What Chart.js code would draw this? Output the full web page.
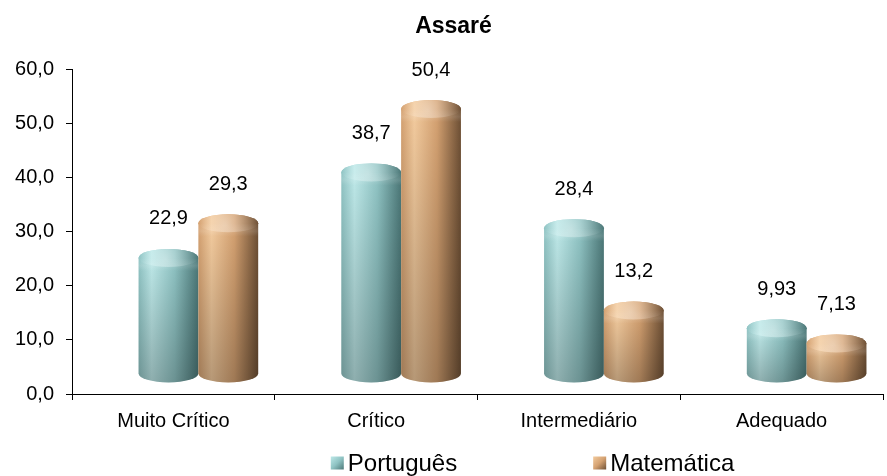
<!DOCTYPE html>
<html>
<head>
<meta charset="utf-8">
<script src="https://cdn.jsdelivr.net/npm/chart.js@4/dist/chart.umd.min.js"></script>
<style>
  body { margin: 0; background: #fff; }
  #wrap { width: 887px; height: 476px; }
</style>
</head>
<body>
<div id="wrap"><canvas id="chart"></canvas></div>
<script>
// dados
var titulo = "Assaré";
var categorias = ["Muito Crítico", "Crítico", "Intermediário", "Adequado"];
var portugues = [22.9, 38.7, 28.4, 9.93];
var matematica = [29.3, 50.4, 13.2, 7.13];
var series = ["Português", "Matemática"];
var yTicks = [0, 10, 20, 30, 40, 50, 60];

var fonte = "'Liberation Sans', Arial, sans-serif";

// cores dos cilindros
var cores = [
    { claro: "#bde8e8", medio: "#8fc3c3", escuro: "#4c7878" },
    { claro: "#f3cb9e", medio: "#d4a171", escuro: "#6e5035" }
];

// deslocamento 3D
var dx = 25;
var ry = 9;

function virgula(v) {
    return String(v).replace(".", ",");
}

function gradCorpo(ctx, cx, rx, c) {
    var g = ctx.createLinearGradient(cx - rx, 0, cx + rx, 0);
    g.addColorStop(0, c.medio);
    g.addColorStop(0.22, c.claro);
    g.addColorStop(0.6, c.medio);
    g.addColorStop(1, c.escuro);
    return g;
}

function desenhaCilindro(ctx, bar, c) {
    var rx = bar.width / 2;
    var cx = bar.x + dx;
    var topo = bar.y - 12;
    var fundo = bar.base - 20;

    ctx.save();
    ctx.beginPath();
    ctx.moveTo(cx - rx, topo);
    ctx.lineTo(cx - rx, fundo);
    ctx.ellipse(cx, fundo, rx, ry, 0, Math.PI, 0, true);
    ctx.lineTo(cx + rx, topo);
    ctx.ellipse(cx, topo, rx, ry, 0, 0, Math.PI, true);
    ctx.closePath();
    ctx.fillStyle = gradCorpo(ctx, cx, rx, c);
    ctx.fill();

    // sombra vertical
    var s = ctx.createLinearGradient(0, topo, 0, fundo + ry);
    s.addColorStop(0, "rgba(0,0,0,0)");
    s.addColorStop(1, "rgba(0,0,0,0.25)");
    ctx.fillStyle = s;
    ctx.fill();

    // tampa arredondada
    ctx.beginPath();
    ctx.ellipse(cx, topo, rx, ry, 0, 0, Math.PI * 2);
    ctx.fillStyle = gradCorpo(ctx, cx, rx, c);
    ctx.fill();
    var h = ctx.createRadialGradient(cx - rx * 0.1, topo + 1, 1, cx, topo, rx);
    h.addColorStop(0, "rgba(255,255,255,0.35)");
    h.addColorStop(1, "rgba(255,255,255,0)");
    ctx.fillStyle = h;
    ctx.fill();
    // ombro da tampa
    var o = ctx.createLinearGradient(0, topo, 0, topo + ry + 4);
    o.addColorStop(0, "rgba(255,255,255,0)");
    o.addColorStop(0.6, "rgba(255,255,255,0.12)");
    o.addColorStop(1, "rgba(255,255,255,0)");
    ctx.fillStyle = o;
    ctx.fillRect(cx - rx, topo, rx * 2, ry + 4);
    ctx.restore();
}

var cilindros = {
    id: "cilindros",
    afterDatasetsDraw: function(chart) {
        var ctx = chart.ctx;
        chart.data.datasets.forEach(function(ds, i) {
            var meta = chart.getDatasetMeta(i);
            meta.data.forEach(function(bar) {
                desenhaCilindro(ctx, bar, cores[i]);
            });
        });
        // rótulos de valor
        ctx.save();
        ctx.fillStyle = "#000";
        ctx.font = "20px " + fonte;
        ctx.textAlign = "center";
        ctx.textBaseline = "middle";
        chart.data.datasets.forEach(function(ds, i) {
            var meta = chart.getDatasetMeta(i);
            meta.data.forEach(function(bar, j) {
                ctx.fillText(virgula(ds.data[j]), bar.x + dx, bar.y - 12 - ry - 30);
            });
        });
        ctx.restore();
    },
    afterDraw: function(chart) {
        var ctx = chart.ctx;
        var ca = chart.chartArea;
        ctx.save();
        // título
        ctx.fillStyle = "#000";
        ctx.font = "bold 23px " + fonte;
        ctx.textAlign = "center";
        ctx.textBaseline = "middle";
        ctx.fillText(titulo, (ca.left + ca.right) / 2 - 24, 27);

        // legenda
        ctx.font = "24px " + fonte;
        ctx.textAlign = "left";
        var caixa = 13, espaco = 4, entre = 136;
        var larguras = series.map(function(s) { return caixa + espaco + ctx.measureText(s).width; });
        var total = larguras[0] + entre + larguras[1];
        var x = (ca.left + ca.right) / 2 + 55 - total / 2;
        var y = 463;
        series.forEach(function(s, i) {
            var c = cores[i];
            var g = ctx.createLinearGradient(x, y - caixa / 2, x + caixa, y + caixa / 2);
            g.addColorStop(0, c.claro);
            g.addColorStop(0.5, c.medio);
            g.addColorStop(1, c.escuro);
            ctx.fillStyle = g;
            ctx.fillRect(x, y - caixa / 2, caixa, caixa);
            ctx.fillStyle = "#000";
            ctx.fillText(s, x + caixa + espaco, y + 1);
            x += larguras[i] + entre;
        });
        ctx.restore();
    }
};

var ctx = document.getElementById("chart").getContext("2d");
var chart = new Chart(ctx, {
    type: "bar",
    data: {
        labels: categorias,
        datasets: [
            { label: series[0], data: portugues, backgroundColor: "rgba(0,0,0,0)", categoryPercentage: 0.59, barPercentage: 1 },
            { label: series[1], data: matematica, backgroundColor: "rgba(0,0,0,0)", categoryPercentage: 0.59, barPercentage: 1 }
        ]
    },
    options: {
        responsive: true,
        maintainAspectRatio: false,
        animation: false,
        layout: { padding: { left: 0, right: 4, top: 69, bottom: 0 } },
        plugins: {
            legend: { display: false },
            tooltip: { enabled: false },
            title: { display: false }
        },
        scales: {
            x: {
                grid: { offset: true, drawOnChartArea: false, color: "#000", tickLength: 6 },
                border: { color: "#000" },
                ticks: { color: "#000", font: { family: fonte, size: 20 }, padding: 9 },
                afterFit: function(s) { s.height = 82; }
            },
            y: {
                min: 0,
                max: 60,
                grid: { drawOnChartArea: false, color: "#000", tickLength: 6 },
                border: { color: "#000" },
                ticks: {
                    color: "#000",
                    font: { family: fonte, size: 20 },
                    padding: 12,
                    callback: function(v) { return v.toFixed(1).replace(".", ","); }
                },
                afterBuildTicks: function(s) { s.ticks = yTicks.map(function(v) { return { value: v }; }); },
                afterFit: function(s) { s.width = 72; }
            }
        }
    },
    plugins: [cilindros]
});
</script>
</body>
</html>
